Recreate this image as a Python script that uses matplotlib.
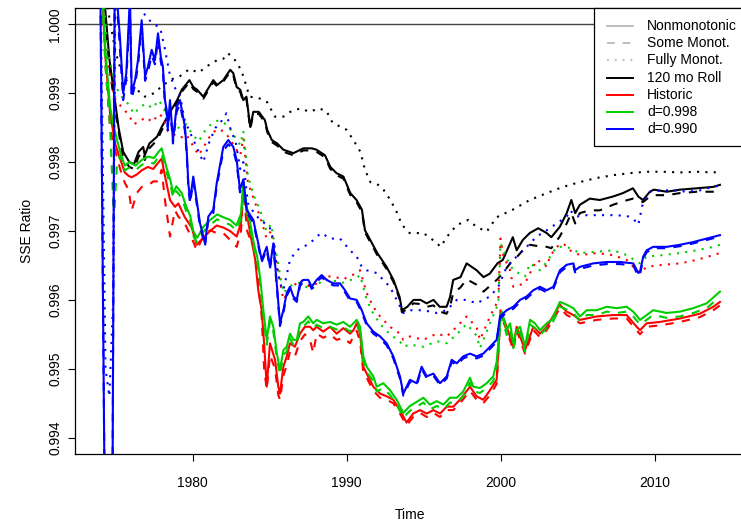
import numpy as np
import matplotlib
matplotlib.use("Agg")
import matplotlib.pyplot as plt
from matplotlib.lines import Line2D
from matplotlib.patches import Rectangle

plt.rcParams['font.family'] = ['Liberation Sans', 'DejaVu Sans']

# ---------------------------------------------------------------- data
# 120-month rolling window (black): solid / some-monotone (dashed) share a grid
black_t = [1974.0, 1974.3, 1974.6, 1974.9, 1975.2, 1975.5, 1975.9, 1976.2, 1976.5, 1976.8,
           1976.9, 1977.2, 1977.7, 1978.0, 1978.5, 1979.0, 1979.3, 1979.8, 1980.05, 1980.3,
           1980.7, 1981.35, 1981.6, 1982.0, 1982.45, 1982.65, 1982.87, 1983.1, 1983.3, 1983.5,
           1983.75, 1983.95, 1984.3, 1984.7, 1984.85, 1985.15, 1985.5, 1985.9, 1986.55, 1987.2,
           1987.75, 1988.05, 1988.6, 1988.95, 1989.35, 1989.8, 1990.25, 1990.65, 1991.0, 1991.2,
           1992.0, 1992.6, 1993.05, 1993.45, 1993.6, 1993.95, 1994.35, 1994.8, 1995.2, 1995.65,
           1996.05, 1996.5, 1996.72, 1996.93, 1997.4, 1997.8, 1998.45, 1998.9, 1999.3, 1999.8,
           2000.15, 2000.8, 2001.05, 2001.45, 2001.9, 2002.45, 2003.0, 2003.3, 2003.85, 2004.3,
           2004.6, 2004.85, 2005.15, 2005.8, 2006.45, 2007.3, 2007.95, 2008.6, 2008.95, 2009.25,
           2009.7, 2009.95, 2010.8, 2011.65, 2012.75, 2013.8, 2014.25]
roll_nonmono = [1.0010, 1.0003, 0.9995, 0.9990, 0.99850, 0.99815, 0.99800, 0.99797, 0.99815, 0.99822,
                0.99810, 0.99827, 0.99837, 0.99851, 0.99871, 0.99890, 0.99905, 0.99919, 0.99909, 0.99905,
                0.99895, 0.99919, 0.99912, 0.99919, 0.99934, 0.99929, 0.99909, 0.99905, 0.99890, 0.99895,
                0.99851, 0.99873, 0.99873, 0.99861, 0.99847, 0.99832, 0.99827, 0.99818, 0.99813, 0.99820,
                0.99820, 0.99818, 0.99810, 0.99793, 0.99784, 0.99779, 0.99755, 0.99745, 0.99731, 0.99701,
                0.99668, 0.99648, 0.99629, 0.99604, 0.99585, 0.99590, 0.99600, 0.99600, 0.99595, 0.99600,
                0.99590, 0.99590, 0.99604, 0.99629, 0.99633, 0.99653, 0.99643, 0.99633, 0.99638, 0.99653,
                0.99658, 0.99691, 0.99672, 0.99687, 0.99697, 0.99704, 0.99697, 0.99691, 0.99706, 0.99726,
                0.99745, 0.99726, 0.99738, 0.99747, 0.99745, 0.99750, 0.99755, 0.99762, 0.99750, 0.99745,
                0.99757, 0.99760, 0.99757, 0.99760, 0.99762, 0.99764, 0.99767]
roll_some = [1.0010, 1.0002, 0.9994, 0.9989, 0.99845, 0.99805, 0.99793, 0.99790, 0.99808, 0.99815,
             0.99803, 0.99820, 0.99832, 0.99846, 0.99867, 0.99887, 0.99902, 0.99916, 0.99906, 0.99902,
             0.99892, 0.99916, 0.99910, 0.99917, 0.99931, 0.99926, 0.99906, 0.99902, 0.99887, 0.99892,
             0.99848, 0.99870, 0.99870, 0.99858, 0.99844, 0.99829, 0.99824, 0.99815, 0.99810, 0.99817,
             0.99817, 0.99815, 0.99807, 0.99790, 0.99781, 0.99776, 0.99752, 0.99742, 0.99728, 0.99698,
             0.99665, 0.99645, 0.99626, 0.99601, 0.99582, 0.99587, 0.99595, 0.99594, 0.99590, 0.99592,
             0.99583, 0.99580, 0.99590, 0.99610, 0.99618, 0.99630, 0.99622, 0.99612, 0.99620, 0.99630,
             0.99639, 0.99658, 0.99662, 0.99672, 0.99680, 0.99678, 0.99677, 0.99675, 0.99692, 0.99711,
             0.99726, 0.99711, 0.99726, 0.99730, 0.99730, 0.99738, 0.99743, 0.99747, 0.99745, 0.99742,
             0.99750, 0.99752, 0.99752, 0.99755, 0.99757, 0.99757, 0.99760]
roll_full = [(1974.0, 1.0010), (1974.6, 1.0001), (1975.0, 0.99960), (1975.4, 0.99930), (1975.8, 0.99915),
             (1976.4, 0.99905), (1976.9, 0.99895), (1977.5, 0.99900), (1978.0, 0.99910), (1978.6, 0.99920),
             (1979.2, 0.99925), (1979.8, 0.99935), (1980.4, 0.99930), (1981.0, 0.99940), (1981.6, 0.99948),
             (1982.0, 0.99950), (1982.3, 0.99958), (1982.7, 0.99950), (1983.0, 0.99940), (1983.3, 0.99925),
             (1983.7, 0.99895), (1984.3, 0.99893), (1984.85, 0.99887), (1985.35, 0.99866), (1985.9, 0.99866),
             (1986.35, 0.99873), (1987.0, 0.99878), (1987.6, 0.99873), (1988.2, 0.99878), (1988.7, 0.99874),
             (1989.1, 0.99857), (1990.0, 0.99847), (1990.45, 0.99832), (1990.9, 0.99815), (1991.2, 0.99789),
             (1991.55, 0.99771), (1992.05, 0.99767), (1992.4, 0.99760), (1992.85, 0.99745), (1993.25, 0.99728),
             (1993.6, 0.99709), (1994.1, 0.99697), (1995.0, 0.99697), (1995.85, 0.99683), (1996.1, 0.99677),
             (1996.7, 0.99697), (1997.2, 0.99709), (1997.9, 0.99716), (1998.45, 0.99706), (1999.1, 0.99699),
             (1999.75, 0.99720), (2000.8, 0.99731), (2001.9, 0.99745), (2003.0, 0.99755), (2004.05, 0.99764),
             (2005.15, 0.99771), (2006.25, 0.99777), (2007.3, 0.99781), (2008.4, 0.99784), (2009.5, 0.99786),
             (2010.55, 0.99786), (2011.65, 0.99785), (2012.75, 0.99786), (2013.8, 0.99785), (2014.25, 0.99786)]

# Historic (red)
red_t = [1974.0, 1974.35, 1974.65, 1975.0, 1975.3, 1975.6, 1975.85, 1976.05, 1976.38, 1976.7,
         1977.1, 1977.45, 1977.8, 1978.0, 1978.21, 1978.54, 1978.86, 1979.08, 1979.5, 1979.95,
         1980.27, 1980.7, 1981.14, 1981.57, 1982.0, 1982.44, 1982.87, 1983.15, 1983.3, 1983.55,
         1983.8, 1984.06, 1984.27, 1984.49, 1984.65, 1984.82, 1985.03, 1985.36, 1985.57, 1985.68,
         1985.9, 1986.12, 1986.33, 1986.65, 1986.98, 1987.3, 1987.63, 1987.84, 1988.06, 1988.49,
         1988.93, 1989.36, 1989.79, 1990.23, 1990.45, 1990.66, 1990.88, 1991.09, 1991.31, 1991.74,
         1992.18, 1992.61, 1993.04, 1993.47, 1993.9, 1994.33, 1994.77, 1995.21, 1995.64, 1996.07,
         1996.51, 1996.93, 1997.37, 1998.02, 1998.45, 1998.88, 1999.32, 1999.75, 2000.0, 2000.4,
         2000.83, 2001.05, 2001.59, 2002.13, 2002.56, 2003.0, 2003.86, 2004.3, 2004.73, 2005.16,
         2006.25, 2007.32, 2008.19, 2008.84, 2009.06, 2009.49, 2010.36, 2011.66, 2012.95, 2013.82,
         2014.25]
hist_nonmono = [1.0010, 0.99950, 0.99870, 0.99825, 0.99805, 0.99785, 0.99780, 0.99778, 0.99782, 0.99788,
                0.99793, 0.99790, 0.99800, 0.99805, 0.99780, 0.99745, 0.99735, 0.99740, 0.99720, 0.99705,
                0.99680, 0.99690, 0.99700, 0.99708, 0.99705, 0.99700, 0.99692, 0.99712, 0.99765, 0.99722,
                0.99690, 0.99660, 0.99614, 0.99585, 0.99537, 0.99474, 0.99537, 0.99513, 0.99474, 0.99464,
                0.99503, 0.99518, 0.99537, 0.99532, 0.99551, 0.99561, 0.99561, 0.99556, 0.99561, 0.99554,
                0.99561, 0.99551, 0.99559, 0.99551, 0.99556, 0.99566, 0.99551, 0.99503, 0.99493, 0.99474,
                0.99464, 0.99460, 0.99455, 0.99440, 0.99422, 0.99435, 0.99440, 0.99435, 0.99440, 0.99435,
                0.99445, 0.99445, 0.99455, 0.99474, 0.99460, 0.99455, 0.99469, 0.99484, 0.99585, 0.99561,
                0.99532, 0.99561, 0.99527, 0.99561, 0.99551, 0.99561, 0.99593, 0.99583, 0.99578, 0.99571,
                0.99576, 0.99578, 0.99578, 0.99561, 0.99556, 0.99566, 0.99568, 0.99573, 0.99580, 0.99590,
                0.99597]
hist_some = [1.0010, 0.99940, 0.99850, 0.99815, 0.99790, 0.99770, 0.99760, 0.99730, 0.99755, 0.99764,
             0.99766, 0.99772, 0.99772, 0.99789, 0.99745, 0.99692, 0.99730, 0.99721, 0.99711, 0.99690,
             0.99672, 0.99692, 0.99701, 0.99697, 0.99697, 0.99687, 0.99677, 0.99700, 0.99760, 0.99700,
             0.99685, 0.99672, 0.99624, 0.99576, 0.99500, 0.99470, 0.99520, 0.99500, 0.99462, 0.99455,
             0.99490, 0.99505, 0.99525, 0.99518, 0.99540, 0.99550, 0.99542, 0.99523, 0.99551, 0.99545,
             0.99550, 0.99542, 0.99545, 0.99537, 0.99547, 0.99555, 0.99540, 0.99495, 0.99487, 0.99468,
             0.99458, 0.99455, 0.99450, 0.99435, 0.99418, 0.99430, 0.99436, 0.99430, 0.99436, 0.99430,
             0.99440, 0.99440, 0.99450, 0.99468, 0.99455, 0.99450, 0.99462, 0.99478, 0.99578, 0.99556,
             0.99527, 0.99556, 0.99522, 0.99556, 0.99546, 0.99556, 0.99588, 0.99578, 0.99573, 0.99566,
             0.99571, 0.99573, 0.99573, 0.99556, 0.99550, 0.99561, 0.99563, 0.99568, 0.99575, 0.99585,
             0.99592]
hist_full = [(1974.0, 1.0010), (1974.5, 0.99940), (1975.0, 0.99890), (1975.4, 0.99880), (1975.8, 0.99870),
             (1976.2, 0.99855), (1976.6, 0.99860), (1977.0, 0.99865), (1977.4, 0.99858), (1977.8, 0.99870),
             (1978.1, 0.99865), (1978.4, 0.99845), (1978.8, 0.99840), (1979.2, 0.99835), (1979.6, 0.99840),
             (1980.0, 0.99825), (1980.4, 0.99810), (1980.8, 0.99825), (1981.2, 0.99840), (1981.6, 0.99848),
             (1982.0, 0.99845), (1982.4, 0.99835), (1982.8, 0.99820), (1983.1, 0.99810), (1983.3, 0.99835),
             (1983.6, 0.99770), (1984.0, 0.99745), (1984.4, 0.99720), (1984.8, 0.99690), (1985.1, 0.99700),
             (1985.5, 0.99650), (1985.9, 0.99600), (1986.3, 0.99615), (1986.98, 0.99629), (1987.63, 0.99619),
             (1988.06, 0.99624), (1988.49, 0.99634), (1989.14, 0.99634), (1989.79, 0.99630), (1990.66, 0.99639),
             (1990.88, 0.99643), (1991.31, 0.99610), (1991.74, 0.99590), (1992.18, 0.99576), (1992.82, 0.99561),
             (1993.47, 0.99551), (1993.69, 0.99542), (1994.12, 0.99547), (1994.99, 0.99542), (1995.86, 0.99551),
             (1996.51, 0.99547), (1997.16, 0.99561), (1997.8, 0.99576), (1998.45, 0.99560), (1998.67, 0.99542),
             (1999.32, 0.99576), (1999.86, 0.99600), (2000.0, 0.99689), (2000.2, 0.99663), (2000.62, 0.99643),
             (2000.83, 0.99619), (2001.59, 0.99624), (2001.92, 0.99639), (2002.35, 0.99658), (2002.78, 0.99653),
             (2003.0, 0.99648), (2003.21, 0.99663), (2003.64, 0.99677), (2004.08, 0.99682), (2004.51, 0.99672),
             (2005.16, 0.99665), (2006.25, 0.99668), (2007.32, 0.99665), (2008.19, 0.99658), (2008.84, 0.99643),
             (2009.06, 0.99639), (2009.49, 0.99648), (2010.57, 0.99651), (2011.66, 0.99653), (2012.74, 0.99658),
             (2013.82, 0.99665), (2014.25, 0.99668)]

# Discount d=0.998 (green)
green_t = [1974.0, 1974.35, 1974.65, 1974.9, 1975.1, 1975.3, 1975.6, 1975.9, 1976.3, 1976.7,
           1977.1, 1977.5, 1977.8, 1978.0, 1978.3, 1978.55, 1978.75, 1978.95, 1979.3, 1979.6,
           1979.85, 1980.05, 1980.3, 1980.7, 1981.15, 1981.6, 1982.0, 1982.45, 1982.85, 1983.15,
           1983.3, 1983.5, 1983.8, 1984.0, 1984.2, 1984.4, 1984.6, 1984.82, 1985.03, 1985.25,
           1985.47, 1985.68, 1985.9, 1986.12, 1986.33, 1986.55, 1986.77, 1986.98, 1987.19, 1987.52,
           1987.84, 1988.06, 1988.49, 1988.93, 1989.36, 1989.79, 1990.23, 1990.66, 1990.88, 1991.09,
           1991.31, 1991.74, 1991.96, 1992.39, 1992.82, 1993.26, 1993.69, 1994.12, 1994.56, 1994.99,
           1995.42, 1995.86, 1996.29, 1996.72, 1997.16, 1997.58, 1998.02, 1998.23, 1998.67, 1999.1,
           1999.53, 1999.75, 1999.97, 2000.08, 2000.4, 2000.62, 2000.83, 2001.05, 2001.27, 2001.59,
           2001.92, 2002.24, 2002.56, 2003.0, 2003.32, 2003.86, 2004.3, 2004.73, 2005.16, 2005.6,
           2006.25, 2006.9, 2007.55, 2008.19, 2008.62, 2009.06, 2009.49, 2009.92, 2010.36, 2010.79,
           2011.66, 2012.52, 2013.39, 2014.25]
d998_nonmono = [1.0010, 0.99960, 0.99880, 0.99850, 0.99832, 0.99815, 0.99795, 0.99800, 0.99795, 0.99803,
                0.99808, 0.99806, 0.99815, 0.99820, 0.99793, 0.99775, 0.99755, 0.99765, 0.99755, 0.99735,
                0.99722, 0.99700, 0.99690, 0.99706, 0.99716, 0.99724, 0.99720, 0.99716, 0.99708, 0.99725,
                0.99770, 0.99738, 0.99705, 0.99680, 0.99663, 0.99630, 0.99585, 0.99542, 0.99576, 0.99561,
                0.99523, 0.99498, 0.99527, 0.99532, 0.99551, 0.99542, 0.99542, 0.99566, 0.99568, 0.99576,
                0.99566, 0.99571, 0.99566, 0.99568, 0.99564, 0.99568, 0.99561, 0.99571, 0.99561, 0.99518,
                0.99503, 0.99489, 0.99474, 0.99479, 0.99469, 0.99455, 0.99436, 0.99446, 0.99452, 0.99458,
                0.99448, 0.99453, 0.99448, 0.99458, 0.99458, 0.99467, 0.99487, 0.99474, 0.99472, 0.99479,
                0.99489, 0.99510, 0.99566, 0.99583, 0.99556, 0.99566, 0.99537, 0.99556, 0.99561, 0.99532,
                0.99571, 0.99566, 0.99556, 0.99566, 0.99571, 0.99597, 0.99593, 0.99588, 0.99576, 0.99585,
                0.99585, 0.99590, 0.99588, 0.99590, 0.99583, 0.99571, 0.99578, 0.99585, 0.99583, 0.99581,
                0.99583, 0.99588, 0.99595, 0.99612]
d998_some = [1.0010, 0.99940, 0.99850, 0.99716, 0.99800, 0.99810, 0.99788, 0.99792, 0.99788, 0.99796,
             0.99800, 0.99798, 0.99808, 0.99812, 0.99786, 0.99768, 0.99748, 0.99758, 0.99748, 0.99728,
             0.99715, 0.99693, 0.99683, 0.99699, 0.99709, 0.99717, 0.99713, 0.99709, 0.99701, 0.99718,
             0.99765, 0.99731, 0.99698, 0.99673, 0.99656, 0.99623, 0.99578, 0.99535, 0.99569, 0.99554,
             0.99516, 0.99491, 0.99520, 0.99525, 0.99544, 0.99535, 0.99535, 0.99559, 0.99561, 0.99569,
             0.99559, 0.99564, 0.99559, 0.99561, 0.99557, 0.99561, 0.99554, 0.99564, 0.99554, 0.99511,
             0.99496, 0.99482, 0.99467, 0.99472, 0.99462, 0.99448, 0.99429, 0.99439, 0.99445, 0.99451,
             0.99441, 0.99446, 0.99441, 0.99451, 0.99451, 0.99460, 0.99480, 0.99467, 0.99465, 0.99472,
             0.99482, 0.99503, 0.99559, 0.99576, 0.99549, 0.99559, 0.99530, 0.99549, 0.99554, 0.99525,
             0.99564, 0.99559, 0.99549, 0.99559, 0.99564, 0.99590, 0.99586, 0.99581, 0.99569, 0.99578,
             0.99578, 0.99583, 0.99581, 0.99583, 0.99576, 0.99564, 0.99571, 0.99578, 0.99576, 0.99574,
             0.99576, 0.99581, 0.99588, 0.99605]
d998_full = [(1974.0, 1.0010), (1974.5, 0.99960), (1975.0, 0.99910), (1975.4, 0.99895), (1975.8, 0.99885),
             (1976.2, 0.99870), (1976.6, 0.99880), (1977.0, 0.99885), (1977.4, 0.99878), (1977.8, 0.99890),
             (1978.1, 0.99880), (1978.4, 0.99860), (1978.8, 0.99850), (1979.2, 0.99850), (1979.6, 0.99855),
             (1980.0, 0.99840), (1980.4, 0.99830), (1980.8, 0.99845), (1981.2, 0.99855), (1981.6, 0.99860),
             (1982.0, 0.99858), (1982.4, 0.99850), (1982.8, 0.99835), (1983.1, 0.99825), (1983.3, 0.99845),
             (1983.6, 0.99780), (1984.0, 0.99750), (1984.4, 0.99730), (1984.8, 0.99700), (1985.1, 0.99710),
             (1985.5, 0.99660), (1985.9, 0.99610), (1986.3, 0.99620), (1986.98, 0.99625), (1987.63, 0.99615),
             (1988.06, 0.99620), (1988.49, 0.99630), (1989.14, 0.99628), (1989.79, 0.99625), (1990.66, 0.99632),
             (1990.88, 0.99636), (1991.31, 0.99600), (1991.74, 0.99580), (1992.18, 0.99565), (1992.82, 0.99550),
             (1993.47, 0.99540), (1993.69, 0.99532), (1994.12, 0.99535), (1994.99, 0.99532), (1995.86, 0.99540),
             (1996.51, 0.99537), (1997.16, 0.99550), (1997.8, 0.99565), (1998.45, 0.99548), (1998.67, 0.99530),
             (1999.32, 0.99566), (1999.86, 0.99595), (2000.0, 0.99682), (2000.4, 0.99660), (2000.83, 0.99643),
             (2001.59, 0.99634), (2001.92, 0.99653), (2002.56, 0.99643), (2003.0, 0.99655), (2003.64, 0.99677),
             (2004.3, 0.99677), (2005.16, 0.99668), (2006.25, 0.99670), (2007.32, 0.99672), (2008.19, 0.99665),
             (2009.06, 0.99653), (2009.49, 0.99663), (2010.57, 0.99665), (2011.66, 0.99668), (2012.74, 0.99672),
             (2013.82, 0.99677), (2014.25, 0.99680)]

# Discount d=0.990 (blue)
blue_t = [1974.0, 1974.3, 1974.8, 1974.95, 1975.3, 1975.5, 1975.7, 1975.94, 1976.05, 1976.27,
          1976.46, 1976.7, 1976.92, 1977.1, 1977.35, 1977.56, 1977.76, 1977.94, 1978.08, 1978.21,
          1978.32, 1978.4, 1978.54, 1978.73, 1978.97, 1979.19, 1979.51, 1979.62, 1979.73, 1979.84,
          1980.05, 1980.27, 1980.49, 1980.7, 1980.81, 1981.03, 1981.35, 1981.57, 1982.0, 1982.32,
          1982.65, 1982.87, 1983.08, 1983.3, 1983.52, 1983.95, 1984.27, 1984.49, 1984.82, 1985.03,
          1985.25, 1985.47, 1985.68, 1985.9, 1986.12, 1986.33, 1986.55, 1986.77, 1986.98, 1987.19,
          1987.52, 1987.74, 1988.06, 1988.39, 1988.71, 1989.14, 1989.58, 1989.9, 1990.23, 1990.66,
          1990.99, 1991.31, 1991.74, 1992.18, 1992.61, 1993.04, 1993.47, 1993.69, 1994.12, 1994.56,
          1994.88, 1995.21, 1995.64, 1996.07, 1996.51, 1996.83, 1997.16, 1997.58, 1998.02, 1998.45,
          1998.88, 1999.32, 1999.75, 1999.97, 2000.4, 2000.83, 2001.27, 2001.7, 2002.13, 2002.56,
          2003.0, 2003.43, 2003.86, 2004.3, 2004.73, 2004.84, 2005.16, 2006.03, 2006.9, 2007.76,
          2008.62, 2008.95, 2009.06, 2009.27, 2009.49, 2009.92, 2010.79, 2011.66, 2012.52, 2013.39,
          2014.25]
d990_nonmono = [1.0010, 0.9930, 0.9930, 1.0008, 0.99977, 0.99900, 0.99929, 1.0004, 0.99900, 0.99919,
                0.99948, 1.00006, 0.99924, 0.99938, 0.99963, 0.99948, 0.99987, 0.99953, 0.99938, 0.99890,
                0.99876, 0.99851, 0.99890, 0.99832, 0.99880, 0.99890, 0.99851, 0.99818, 0.99769, 0.99745,
                0.99779, 0.99745, 0.99711, 0.99692, 0.99682, 0.99721, 0.99731, 0.99769, 0.99822, 0.99832,
                0.99822, 0.99803, 0.99760, 0.99775, 0.99731, 0.99716, 0.99682, 0.99658, 0.99677, 0.99648,
                0.99682, 0.99624, 0.99566, 0.99585, 0.99610, 0.99619, 0.99605, 0.99600, 0.99624, 0.99629,
                0.99629, 0.99619, 0.99629, 0.99636, 0.99629, 0.99624, 0.99624, 0.99614, 0.99602, 0.99600,
                0.99585, 0.99566, 0.99554, 0.99547, 0.99537, 0.99518, 0.99489, 0.99464, 0.99484, 0.99479,
                0.99503, 0.99489, 0.99493, 0.99479, 0.99489, 0.99513, 0.99508, 0.99518, 0.99522, 0.99518,
                0.99522, 0.99532, 0.99542, 0.99576, 0.99585, 0.99590, 0.99600, 0.99605, 0.99614, 0.99619,
                0.99614, 0.99619, 0.99643, 0.99651, 0.99653, 0.99643, 0.99648, 0.99653, 0.99655, 0.99655,
                0.99653, 0.99639, 0.99641, 0.99663, 0.99672, 0.99677, 0.99677, 0.99680, 0.99684, 0.99689,
                0.99694]
d990_some = [1.0010, 0.9930, 0.9930, 1.0008, 0.99960, 0.99890, 0.99920, 1.0002, 0.99892, 0.99912,
             0.99940, 0.99995, 0.99918, 0.99930, 0.99955, 0.99942, 0.99978, 0.99946, 0.99930, 0.99884,
             0.99870, 0.99846, 0.99883, 0.99827, 0.99873, 0.99884, 0.99845, 0.99812, 0.99764, 0.99740,
             0.99772, 0.99740, 0.99706, 0.99688, 0.99678, 0.99716, 0.99726, 0.99764, 0.99816, 0.99826,
             0.99817, 0.99798, 0.99756, 0.99771, 0.99727, 0.99712, 0.99679, 0.99655, 0.99673, 0.99645,
             0.99678, 0.99620, 0.99562, 0.99581, 0.99606, 0.99615, 0.99602, 0.99597, 0.99620, 0.99626,
             0.99626, 0.99616, 0.99626, 0.99633, 0.99626, 0.99621, 0.99621, 0.99611, 0.99599, 0.99597,
             0.99582, 0.99563, 0.99551, 0.99544, 0.99534, 0.99515, 0.99486, 0.99461, 0.99481, 0.99476,
             0.99500, 0.99486, 0.99490, 0.99476, 0.99486, 0.99510, 0.99505, 0.99515, 0.99519, 0.99515,
             0.99519, 0.99529, 0.99539, 0.99573, 0.99582, 0.99587, 0.99597, 0.99602, 0.99611, 0.99616,
             0.99611, 0.99616, 0.99640, 0.99648, 0.99650, 0.99640, 0.99645, 0.99650, 0.99652, 0.99652,
             0.99650, 0.99634, 0.99637, 0.99660, 0.99669, 0.99675, 0.99675, 0.99678, 0.99682, 0.99687,
             0.99692]
d990_full = [(1974.0, 1.0010), (1974.35, 0.99500), (1974.6, 0.99460), (1974.85, 0.99600), (1975.0, 1.0008),
             (1975.5, 1.0004), (1976.0, 1.0005), (1976.5, 1.0003), (1977.0, 1.0001), (1977.5, 1.0000),
             (1977.9, 0.99995), (1978.2, 0.99965), (1978.5, 0.99930), (1978.8, 0.99910), (1979.2, 0.99895),
             (1979.5, 0.99860), (1979.9, 0.99840), (1980.3, 0.99820), (1980.7, 0.99800), (1981.1, 0.99830),
             (1981.5, 0.99850), (1981.9, 0.99860), (1982.2, 0.99871), (1982.5, 0.99845), (1982.8, 0.99830),
             (1983.1, 0.99790), (1983.3, 0.99800), (1983.6, 0.99740), (1984.0, 0.99726), (1984.4, 0.99716),
             (1985.0, 0.99706), (1985.25, 0.99687), (1985.47, 0.99648), (1985.68, 0.99624), (1985.9, 0.99614),
             (1986.33, 0.99658), (1986.77, 0.99672), (1987.19, 0.99677), (1987.63, 0.99682), (1988.06, 0.99692),
             (1988.39, 0.99697), (1988.93, 0.99689), (1989.58, 0.99689), (1990.23, 0.99672), (1990.66, 0.99663),
             (1990.99, 0.99648), (1991.31, 0.99643), (1991.96, 0.99639), (1992.39, 0.99629), (1992.82, 0.99619),
             (1993.26, 0.99600), (1993.69, 0.99581), (1994.12, 0.99585), (1994.99, 0.99585), (1995.86, 0.99581),
             (1996.51, 0.99585), (1997.16, 0.99600), (1997.8, 0.99600), (1998.45, 0.99595), (1998.88, 0.99600),
             (1999.32, 0.99605), (1999.86, 0.99619), (2000.4, 0.99648), (2001.05, 0.99663), (2001.7, 0.99677),
             (2002.35, 0.99692), (2003.0, 0.99701), (2003.65, 0.99711), (2004.3, 0.99721), (2004.5, 0.99730),
             (2004.95, 0.99721), (2005.6, 0.99723), (2006.46, 0.99723), (2007.32, 0.99723), (2008.19, 0.99722),
             (2008.62, 0.99718), (2008.95, 0.99709), (2009.06, 0.99721), (2009.27, 0.99743), (2009.7, 0.99757),
             (2010.36, 0.99759), (2011.22, 0.99759), (2012.09, 0.99757), (2012.95, 0.99759), (2013.82, 0.99764),
             (2014.25, 0.99766)]

legend_labels = ["Nonmonotonic", "Some Monot.", "Fully Monot.", "120 mo Roll",
                 "Historic", "d=0.998", "d=0.990"]

# ---------------------------------------------------------------- figure
W, H = 741, 521
fig = plt.figure(figsize=(W / 100, H / 100), dpi=100)
L, R, T, B = 75.0, 745.5, 7.8, 454.2          # plot box in pixels
ax = fig.add_axes([L / W, 1 - B / H, (R - L) / W, (B - T) / H])

COL = {"black": "#000000", "red": "#FF0000", "green": "#00CD00", "blue": "#0000FF"}
LW = 1.5
SOLID = "-"
DASHED = (0, (4, 4))
DOTTED = (0, (1, 3))


def draw(t, v, color, ls):
    ax.plot(t, v, color=color, lw=LW, linestyle=ls, solid_joinstyle="round",
            dash_capstyle="butt", zorder=3)


def draw_pairs(pairs, color, ls):
    arr = np.array(pairs)
    draw(arr[:, 0], arr[:, 1], color, ls)


draw_pairs(roll_full, COL["black"], DOTTED)
draw(black_t, roll_some, COL["black"], DASHED)
draw(black_t, roll_nonmono, COL["black"], SOLID)

draw_pairs(hist_full, COL["red"], DOTTED)
draw(red_t, hist_some, COL["red"], DASHED)
draw(red_t, hist_nonmono, COL["red"], SOLID)

draw_pairs(d998_full, COL["green"], DOTTED)
draw(green_t, d998_some, COL["green"], DASHED)
draw(green_t, d998_nonmono, COL["green"], SOLID)

draw_pairs(d990_full, COL["blue"], DOTTED)
draw(blue_t, d990_some, COL["blue"], DASHED)
draw(blue_t, d990_nonmono, COL["blue"], SOLID)

ax.axhline(1.0, color="#444444", lw=1.0, zorder=2)

ax.set_xlim(1972.370, 2015.909)
ax.set_ylim(0.99376, 1.00024)

ax.set_xticks([1980, 1990, 2000, 2010])
yt = [0.994, 0.995, 0.996, 0.997, 0.998, 0.999, 1.000]
ax.set_yticks(yt)
ax.set_yticklabels([f"{v:.3f}" for v in yt], rotation=90, va="center")
ax.tick_params(axis="both", direction="out", length=5.2, width=0.8, labelsize=10,
               colors="black")
ax.tick_params(axis="x", pad=10.5)
ax.tick_params(axis="y", pad=4.0)
for sp in ax.spines.values():
    sp.set_linewidth(0.9)

fig.text(((L + R) / 2) / W, 1 - 515 / H, "Time", ha="center", va="center", fontsize=10)
fig.text(27 / W, 1 - ((T + B) / 2) / H, "SSE Ratio", ha="center", va="center",
         rotation=90, fontsize=10)

# ---------------------------------------------------------------- legend
def fx(x):
    return x / W


def fy(y):
    return 1 - y / H


box = Rectangle((fx(594), fy(145.7)), fx(R) - fx(594), fy(T) - fy(145.7),
                transform=fig.transFigure, facecolor="white", edgecolor="black",
                lw=0.9, zorder=10)
fig.add_artist(box)
leg_colors = ["#BEBEBE", "#BEBEBE", "#BEBEBE", COL["black"], COL["red"], COL["green"], COL["blue"]]
leg_styles = [SOLID, DASHED, DOTTED, SOLID, SOLID, SOLID, SOLID]
for i, (lab, c, ls) in enumerate(zip(legend_labels, leg_colors, leg_styles)):
    yy = 25.9 + 17.2 * i
    fig.add_artist(Line2D([fx(607), fx(633)], [fy(yy), fy(yy)], transform=fig.transFigure,
                          color=c, lw=1.4, linestyle=ls, dash_capstyle="butt", zorder=11))
    fig.text(fx(647), fy(yy), lab, ha="left", va="center", fontsize=10, zorder=12)

fig.savefig("out.png", dpi=100)
